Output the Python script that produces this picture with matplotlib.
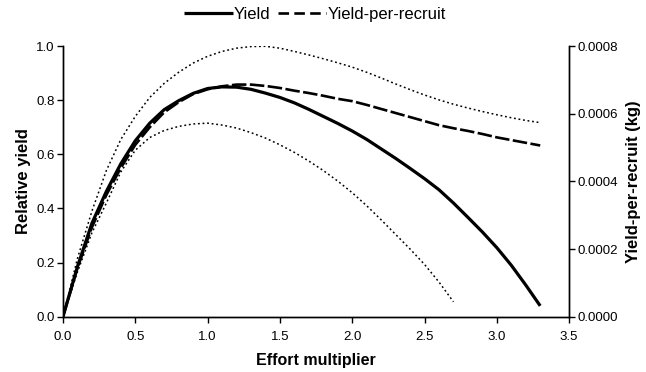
import numpy as np
import matplotlib
matplotlib.use("Agg")
import matplotlib.pyplot as plt
from matplotlib.ticker import FormatStrFormatter

plt.rcParams["font.family"] = ["Liberation Sans", "DejaVu Sans"]

# effort multiplier grid
effort = [0.0, 0.1, 0.2, 0.3, 0.4, 0.5, 0.6, 0.7, 0.8, 0.9, 1.0, 1.1,
          1.2, 1.3, 1.4, 1.5, 1.6, 1.7, 1.8, 1.9, 2.0, 2.1, 2.2, 2.3,
          2.4, 2.5, 2.6, 2.7, 2.8, 2.9, 3.0, 3.1, 3.2, 3.3]

# relative yield (median)
yield_rel = [0.0, 0.185, 0.345, 0.463, 0.565, 0.65, 0.715, 0.765, 0.798,
             0.825, 0.843, 0.849, 0.848, 0.840, 0.826, 0.81, 0.79, 0.766,
             0.74, 0.714, 0.686, 0.655, 0.62, 0.585, 0.548, 0.51, 0.469,
             0.42, 0.367, 0.313, 0.255, 0.19, 0.117, 0.04]

# upper / lower bounds on relative yield
yield_upper = [0.0, 0.215, 0.39, 0.54, 0.655, 0.74, 0.81, 0.862, 0.903,
               0.937, 0.962, 0.98, 0.992, 0.998, 0.999, 0.992, 0.98, 0.967,
               0.953, 0.938, 0.922, 0.903, 0.882, 0.86, 0.839, 0.819, 0.801,
               0.785, 0.771, 0.758, 0.746, 0.735, 0.725, 0.717]

effort_lower = effort[:28]
yield_lower = [0.0, 0.165, 0.31, 0.42, 0.535, 0.615, 0.662, 0.688, 0.703,
               0.712, 0.715, 0.708, 0.697, 0.68, 0.66, 0.635, 0.607, 0.575,
               0.54, 0.501, 0.458, 0.41, 0.358, 0.304, 0.25, 0.193, 0.128,
               0.055]

# yield-per-recruit (kg)
ypr_kg = [0.0, 0.000144, 0.000264, 0.00036, 0.00044, 0.000508, 0.00056,
          0.000604, 0.000634, 0.000658, 0.000672, 0.000681, 0.000686,
          0.000686, 0.000682, 0.000676, 0.000668, 0.000661, 0.000653,
          0.000644, 0.000637, 0.000626, 0.000614, 0.000602, 0.00059,
          0.000578, 0.000566, 0.000557, 0.000549, 0.00054, 0.00053,
          0.000522, 0.000514, 0.000506]

fig = plt.figure(figsize=(6.46, 3.72), dpi=100)
ax = fig.add_axes([0.0975, 0.1487, 0.7835, 0.7276])
ax2 = ax.twinx()

l1, = ax.plot(effort, yield_rel, color="black", lw=2.3, solid_capstyle="butt")
ax.plot(effort, yield_upper, color="black", lw=1.1, linestyle=(0, (1.2, 1.8)))
ax.plot(effort_lower, yield_lower, color="black", lw=1.1, linestyle=(0, (1.2, 1.8)))
l2, = ax2.plot(effort, ypr_kg, color="black", lw=1.9, linestyle=(0, (5.5, 1.3)))

ax.set_xlim(0, 3.5)
ax.set_ylim(0, 1.0)
ax2.set_ylim(0, 0.0008)
ax.set_xticks(np.arange(0, 3.51, 0.5))
ax.set_yticks(np.arange(0, 1.01, 0.2))
ax2.set_yticks(np.arange(0, 0.00081, 0.0002))
ax.xaxis.set_major_formatter(FormatStrFormatter("%.1f"))
ax.yaxis.set_major_formatter(FormatStrFormatter("%.1f"))
ax2.yaxis.set_major_formatter(FormatStrFormatter("%.4f"))

for a in (ax, ax2):
    a.spines["top"].set_visible(False)
    for s in a.spines.values():
        s.set_linewidth(1.0)
    a.tick_params(direction="out", length=4, width=1.0, labelsize=9.5, pad=2)
ax.tick_params(axis="x", pad=6.5)

ax.set_xlabel("Effort multiplier", fontsize=11.5, fontweight="bold", labelpad=7)
ax.set_ylabel("Relative yield", fontsize=12, fontweight="bold", labelpad=4)
ax2.set_ylabel("Yield-per-recruit (kg)", fontsize=12, fontweight="bold", labelpad=6)

l2_leg = plt.Line2D([], [], color="black", lw=1.9, linestyle=(0, (4, 2)))
fig.legend([l1, l2_leg], ["Yield", "Yield-per-recruit"], loc="center",
           bbox_to_anchor=(0.488, 0.962), ncol=2, frameon=False,
           fontsize=12, handlelength=2.9, handletextpad=0.08, columnspacing=0.45)

fig.savefig("out.png", dpi=100)
